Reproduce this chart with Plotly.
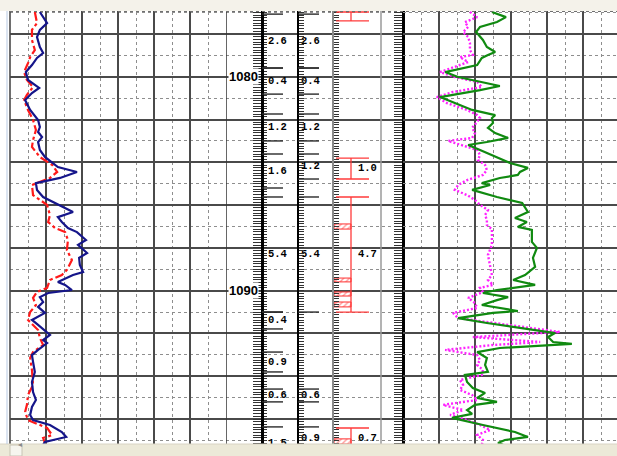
import plotly.graph_objects as go

# ---------------- data (depth in metres) ----------------
blue_depth = [1076.97, 1077.49, 1077.81, 1078.14, 1078.61, 1078.89, 1079.12, 1079.45, 1079.78, 1080.15,
              1080.52, 1080.76, 1081.09, 1081.55, 1082.02, 1082.35, 1082.58, 1082.82, 1083.05, 1083.42,
              1083.75, 1084.22, 1084.45, 1084.73, 1084.97, 1085.29, 1085.62, 1086.09, 1086.32, 1086.56,
              1086.79, 1087.07, 1087.26, 1087.63, 1087.86, 1088.24, 1088.47, 1088.80, 1089.13, 1089.27,
              1089.59, 1089.73, 1089.97, 1090.11, 1090.30, 1090.53, 1090.76, 1091.04, 1091.37, 1091.60,
              1091.93, 1092.07, 1092.31, 1092.45, 1092.77, 1093.01, 1093.33, 1093.80, 1094.27, 1094.74,
              1095.11, 1095.44, 1095.81, 1096.05, 1096.28, 1096.61, 1096.84, 1097.07, 1097.21]
blue_value = [8.3, 10.3, 8.3, 7.5, 8.3, 9.2, 7.5, 6.1, 4.4, 5.0,
              8.1, 6.1, 4.2, 5.6, 7.8, 8.3, 7.8, 8.9, 7.8, 8.3,
              9.7, 13.3, 18.6, 13.9, 7.2, 7.5, 9.2, 14.7, 17.5, 13.3,
              14.4, 16.1, 18.6, 21.1, 18.9, 21.4, 19.2, 19.4, 20.3, 17.5,
              13.3, 15.3, 17.2, 10.6, 8.3, 9.2, 7.8, 9.7, 6.1, 7.8,
              10.3, 11.1, 9.2, 10.3, 7.8, 6.1, 6.4, 6.9, 6.1, 6.4,
              7.2, 6.1, 5.6, 6.4, 11.1, 14.4, 15.6, 9.7, 9.2]

red_depth = [1076.97, 1077.49, 1077.81, 1078.28, 1078.75, 1079.08, 1079.36, 1079.78, 1080.15, 1080.48,
             1080.85, 1081.09, 1081.55, 1082.02, 1082.49, 1082.96, 1083.28, 1083.75, 1084.12, 1084.45,
             1084.73, 1085.06, 1085.53, 1085.99, 1086.46, 1086.79, 1087.07, 1087.26, 1087.63, 1088.10,
             1088.57, 1089.03, 1089.27, 1089.50, 1089.87, 1090.06, 1090.34, 1090.67, 1091.00, 1091.37,
             1091.84, 1092.21, 1092.54, 1092.87, 1093.15, 1093.71, 1094.41, 1094.88, 1095.34, 1095.67,
             1096.05, 1096.42, 1096.75, 1096.89, 1097.12]
red_value = [6.9, 7.5, 6.1, 6.1, 6.9, 5.6, 5.0, 3.9, 4.7, 6.4,
             4.7, 3.9, 5.0, 6.4, 7.2, 6.4, 6.1, 8.3, 11.7, 13.1,
             11.1, 6.1, 6.4, 10.3, 11.1, 10.6, 12.5, 15.3, 16.1, 15.8,
             17.2, 15.8, 14.4, 11.1, 10.3, 7.5, 6.4, 7.2, 5.6, 5.0,
             7.8, 8.3, 9.2, 6.4, 5.6, 6.1, 6.4, 5.0, 4.7, 4.2,
             5.0, 10.3, 11.7, 9.2, 9.7]

green_depth = [1076.97, 1077.21, 1077.44, 1077.67, 1077.91, 1078.28, 1078.61, 1078.84, 1078.98, 1079.12,
               1079.45, 1079.78, 1080.01, 1080.24, 1080.43, 1080.62, 1080.95, 1081.23, 1081.55, 1081.79,
               1081.93, 1082.16, 1082.39, 1082.63, 1082.86, 1083.05, 1083.19, 1083.42, 1083.75, 1084.03,
               1084.26, 1084.45, 1084.59, 1084.73, 1084.97, 1085.06, 1085.29, 1085.62, 1085.90, 1086.32,
               1086.60, 1086.79, 1087.02, 1087.16, 1087.72, 1088.00, 1088.47, 1088.89, 1089.27, 1089.50,
               1089.73, 1089.97, 1090.11, 1090.30, 1090.44, 1090.67, 1090.95, 1091.04, 1091.28, 1091.51,
               1091.93, 1091.98, 1092.17, 1092.40, 1092.49, 1092.68, 1092.87, 1093.01, 1093.15, 1093.47,
               1093.80, 1093.94, 1094.27, 1094.55, 1094.78, 1095.02, 1095.20, 1095.34, 1095.58, 1095.76,
               1095.95, 1096.28, 1096.61, 1096.84, 1096.98, 1097.12, 1097.21]
green_value = [24.7, 28.6, 26.1, 21.4, 20.3, 22.2, 23.3, 25.6, 23.6, 21.9,
               20.6, 11.7, 15.3, 21.4, 26.9, 21.4, 10.3, 14.4, 19.2, 25.6,
               24.7, 25.0, 23.6, 25.6, 29.2, 23.3, 18.1, 21.4, 26.1, 29.7,
               34.7, 32.5, 31.9, 26.9, 21.9, 24.2, 19.2, 26.1, 33.1, 34.7,
               31.1, 34.4, 31.9, 35.8, 35.8, 37.2, 36.1, 36.7, 33.9, 30.6,
               36.7, 26.1, 22.2, 29.2, 26.1, 21.9, 31.9, 25.0, 15.3, 23.3,
               40.0, 42.2, 40.3, 41.7, 46.9, 26.9, 20.6, 21.9, 23.3, 22.8,
               23.6, 17.2, 17.8, 19.4, 22.8, 20.6, 26.1, 20.0, 17.8, 19.2,
               13.6, 22.2, 31.1, 34.7, 28.3, 26.4, 27.8]

magenta_depth = [1076.97, 1077.21, 1077.44, 1077.67, 1077.91, 1078.14, 1078.42, 1078.75, 1078.98, 1079.08,
                 1079.31, 1079.54, 1079.78, 1080.01, 1080.24, 1080.48, 1080.71, 1080.95, 1081.23, 1081.55,
                 1081.79, 1081.93, 1082.11, 1082.39, 1082.63, 1082.86, 1083.00, 1083.19, 1083.42, 1083.66,
                 1083.89, 1084.12, 1084.36, 1084.59, 1084.83, 1085.06, 1085.29, 1085.53, 1085.76, 1085.99,
                 1086.23, 1086.46, 1086.70, 1086.93, 1087.12, 1087.40, 1087.86, 1088.33, 1088.80, 1089.27,
                 1089.50, 1089.73, 1089.87, 1090.06, 1090.34, 1090.58, 1090.81, 1091.04, 1091.28, 1091.60,
                 1091.93, 1092.17, 1092.40, 1092.54, 1092.77, 1093.01, 1093.24, 1093.47, 1093.71, 1093.94,
                 1094.18, 1094.41, 1094.64, 1094.88, 1095.11, 1095.34, 1095.58, 1095.81, 1096.05, 1096.28,
                 1096.51, 1096.75, 1096.98, 1097.21]
magenta_value = [18.6, 20.6, 17.2, 18.1, 16.7, 18.1, 18.6, 18.6, 19.4, 15.8,
                 18.1, 14.4, 10.3, 14.4, 20.6, 21.9, 13.9, 9.4, 12.2, 17.8,
                 20.6, 21.4, 20.6, 19.2, 20.0, 19.2, 12.5, 16.4, 20.6, 21.4,
                 20.8, 22.8, 23.3, 22.2, 17.8, 15.3, 14.4, 17.8, 20.0, 21.4,
                 23.6, 22.8, 23.3, 23.3, 24.7, 24.7, 24.7, 23.6, 24.2, 24.7,
                 23.6, 25.0, 21.4, 22.2, 18.1, 20.0, 20.6, 13.9, 15.3, 29.7,
                 43.6, 19.4, 38.1, 25.0, 11.7, 20.6, 21.4, 20.6, 22.2, 21.9,
                 15.8, 16.7, 15.8, 19.2, 20.6, 11.1, 16.7, 13.1, 17.8, 21.4,
                 24.2, 20.6, 22.2, 21.9]

# layer tables of the two interpretation columns
layerA_top = [1077.07, 1079.59, 1081.74, 1083.61, 1085.62, 1091.00, 1092.87, 1094.60, 1096.37]
layerA_bot = [1079.59, 1080.81, 1083.00, 1085.20, 1091.00, 1091.79, 1093.80, 1095.20, 1097.87]
layerA_val = [2.6, 0.4, 1.2, 1.6, 5.4, 0.4, 0.9, 0.6, 1.5]

layerB_top = [1077.07, 1079.59, 1081.74, 1083.61, 1085.62, 1094.60, 1096.37]
layerB_bot = [1079.59, 1080.81, 1083.00, 1084.78, 1091.00, 1095.20, 1097.45]
layerB_val = [2.6, 0.4, 1.2, 1.2, 5.4, 0.6, 0.9]

# red interval column
zone_top = [1076.97, 1083.80, 1085.62, 1096.42]
zone_bot = [1077.39, 1084.78, 1091.00, 1097.35]
zone_val = [None, 1.0, 4.7, 0.7]

hatch_top = [1086.88, 1089.41, 1090.06, 1090.53, 1096.93]
hatch_bot = [1087.12, 1089.59, 1090.25, 1090.76, 1097.17]

depth_marks = [1080, 1090]

# ---------------- layout constants (pixels) ----------------
W, H = 617, 456
L = 10
PW = W - L
Y_RANGE = [1097.73, 1076.41]


def pxx(x):
    return (x - L) / PW


def pyy(y):
    return 1 - y / H


MAJOR = "#4a4a4a"
MINOR = "#8e8e8e"
LABEL_FONT = dict(family="Liberation Mono", size=10.5, color="black", weight="bold")

fig = go.Figure()

# ---- track 1 curves ----
fig.add_trace(go.Scatter(x=red_value, y=red_depth, mode="lines", xaxis="x", yaxis="y",
                         line=dict(color="#ff1a1a", width=2.2, dash="dashdot")))
fig.add_trace(go.Scatter(x=blue_value, y=blue_depth, mode="lines", xaxis="x", yaxis="y",
                         line=dict(color="#15158a", width=2.2)))

# ---- right track curves ----
fig.add_trace(go.Scatter(x=magenta_value, y=magenta_depth, mode="lines", xaxis="x3", yaxis="y",
                         line=dict(color="#ff22ff", width=2.4, dash="2px,2px")))
fig.add_trace(go.Scatter(x=green_value, y=green_depth, mode="lines", xaxis="x3", yaxis="y",
                         line=dict(color="#108a10", width=2.2)))

# ---- hatched boxes ----
HATCH_X0, HATCH_LEN = 334, 17
fig.add_trace(go.Bar(
    y=[(t + b) / 2 for t, b in zip(hatch_top, hatch_bot)],
    x=[HATCH_LEN] * len(hatch_top), base=[HATCH_X0] * len(hatch_top),
    width=[b - t for t, b in zip(hatch_top, hatch_bot)],
    orientation="h", xaxis="x2", yaxis="y",
    marker=dict(color="white", line=dict(color="#ff3030", width=1),
                pattern=dict(shape="/", fgcolor="#ff3030", bgcolor="white", size=4, solidity=0.35))))

# ---- layer labels (text traces so they sit under the frame strips) ----
A_X, B_X, C_X = 268, 301, 358
fig.add_trace(go.Scatter(x=[A_X] * len(layerA_val),
                         y=[(t + b) / 2 for t, b in zip(layerA_top, layerA_bot)],
                         text=[f"{v:.1f}" for v in layerA_val], mode="text",
                         textposition="middle right", textfont=LABEL_FONT,
                         xaxis="x2", yaxis="y"))
fig.add_trace(go.Scatter(x=[B_X] * len(layerB_val),
                         y=[(t + b) / 2 for t, b in zip(layerB_top, layerB_bot)],
                         text=[f"{v:.1f}" for v in layerB_val], mode="text",
                         textposition="middle right", textfont=LABEL_FONT,
                         xaxis="x2", yaxis="y"))
zl = [(v, (t + b) / 2) for v, t, b in zip(zone_val, zone_top, zone_bot) if v is not None]
fig.add_trace(go.Scatter(x=[C_X] * len(zl), y=[d for _, d in zl],
                         text=[f"{v:.1f}" for v, _ in zl], mode="text",
                         textposition="middle right", textfont=LABEL_FONT,
                         xaxis="x2", yaxis="y"))

shapes = []
# layer boundary lines
for t, b in zip(layerA_top, layerA_bot):
    for d in (t, b):
        shapes.append(dict(type="line", xref="x2", yref="y", x0=262, x1=283, y0=d, y1=d,
                           line=dict(color="#2a2a2a", width=1.4)))
for t, b in zip(layerB_top, layerB_bot):
    for d in (t, b):
        shapes.append(dict(type="line", xref="x2", yref="y", x0=298, x1=319, y0=d, y1=d,
                           line=dict(color="#2a2a2a", width=1.4)))
# red interval brackets
RED = "#ff3a3a"
for t, b in zip(zone_top, zone_bot):
    shapes.append(dict(type="line", xref="x2", yref="y", x0=336, x1=369, y0=t, y1=t, line=dict(color=RED, width=1.3)))
    shapes.append(dict(type="line", xref="x2", yref="y", x0=336, x1=369, y0=b, y1=b, line=dict(color=RED, width=1.3)))
    shapes.append(dict(type="line", xref="x2", yref="y", x0=351, x1=351, y0=t, y1=b, line=dict(color=RED, width=1.3)))

# plain vertical separators
shapes.append(dict(type="line", xref="x2", yref="paper", x0=226, x1=226, y0=0, y1=1, line=dict(color="#333", width=1.5)))
shapes.append(dict(type="line", xref="x2", yref="paper", x0=381, x1=381, y0=0, y1=1, line=dict(color="#9a9a9a", width=1.5)))
shapes.append(dict(type="line", xref="paper", yref="paper", x0=0, x1=0, y0=0, y1=1, line=dict(color=MAJOR, width=1.6)))

# window chrome: top strip, bottom scroll strip, left edge line
shapes.append(dict(type="rect", xref="paper", yref="paper", x0=pxx(0), x1=1, y0=pyy(11), y1=1,
                   fillcolor="#f4f2ea", line=dict(width=0), layer="above"))
shapes.append(dict(type="line", xref="paper", yref="paper", x0=pxx(10), x1=1, y0=pyy(11.5), y1=pyy(11.5),
                   line=dict(color="#707070", width=1.2, dash="dot"), layer="above"))
shapes.append(dict(type="rect", xref="paper", yref="paper", x0=pxx(0), x1=1, y0=0, y1=pyy(444),
                   fillcolor="#ece9d8", line=dict(width=0), layer="above"))
shapes.append(dict(type="line", xref="paper", yref="paper", x0=pxx(0), x1=1, y0=pyy(444), y1=pyy(444),
                   line=dict(color="#d8d4c4", width=1), layer="above"))
shapes.append(dict(type="rect", xref="paper", yref="paper", x0=pxx(10), x1=pxx(22), y0=0, y1=pyy(445),
                   fillcolor="#f6f5ef", line=dict(color="#c8c4b4", width=1), layer="above"))
shapes.append(dict(type="line", xref="paper", yref="paper", x0=pxx(7), x1=pxx(7), y0=pyy(444), y1=pyy(11),
                   line=dict(color="#b7c9e2", width=1), layer="above"))

annotations = [dict(x=243, y=d, xref="x2", yref="y", text=f"<b>{d}</b>", showarrow=False,
                    font=dict(family="Liberation Sans", size=13, color="black"),
                    bgcolor="white", borderpad=0) for d in depth_marks]
annotations.append(dict(x=pxx(16), y=pyy(450.5), xref="paper", yref="paper", text="◂", showarrow=False,
                        font=dict(size=8, color="#8a8a8a")))

grid_x = dict(showgrid=True, gridcolor=MAJOR, gridwidth=1.6, dtick=10, tick0=0,
              minor=dict(dtick=5, showgrid=True, gridcolor=MINOR, griddash="dot", gridwidth=1),
              showticklabels=False, zeroline=False, ticks="", showline=False, fixedrange=True)


def tick_axis(pos, ticks, length, linecolor, linewidth, showline=True):
    return dict(overlaying="y", anchor="free", position=pos, side="left", range=Y_RANGE,
                autorange=False, tick0=1077, dtick=0.125, ticks=ticks, ticklen=length,
                tickcolor="#333333", tickwidth=1, showticklabels=False, showgrid=False,
                zeroline=False, showline=showline, linecolor=linecolor, linewidth=linewidth)


fig.update_layout(
    width=W, height=H, margin=dict(l=L, r=0, t=0, b=0),
    paper_bgcolor="white", plot_bgcolor="white", showlegend=False, barmode="overlay",
    xaxis=dict(domain=[0, pxx(226)], range=[0, 60], anchor="y", **grid_x),
    xaxis2=dict(domain=[pxx(226), pxx(403)], range=[226, 403], anchor="y", showgrid=False,
                showticklabels=False, zeroline=False, ticks="", fixedrange=True),
    xaxis3=dict(domain=[pxx(403), 1], range=[0, (W - 403) / 3.6], anchor="y", **grid_x),
    yaxis=dict(range=Y_RANGE, autorange=False, anchor="x", showgrid=True, gridcolor=MAJOR, gridwidth=1.6,
               dtick=2, tick0=1078,
               minor=dict(dtick=1, showgrid=True, gridcolor=MINOR, griddash="dot", gridwidth=1),
               showticklabels=False, zeroline=False, ticks="", showline=False, fixedrange=True),
    yaxis2=tick_axis(pxx(262), "outside", 8, "black", 2.5),
    yaxis3=tick_axis(pxx(262), "inside", 3, "black", 2.5),
    yaxis4=tick_axis(pxx(298), "inside", 5, "black", 2),
    yaxis5=tick_axis(pxx(333), "inside", 5, "#8a8a8a", 1.5),
    yaxis6=tick_axis(pxx(403), "outside", 8, "black", 2.5),
    shapes=shapes, annotations=annotations,
)

# anchor traces so the tick axes are rendered
for i in range(2, 7):
    fig.add_trace(go.Scatter(x=[None], y=[None], xaxis="x2", yaxis=f"y{i}", hoverinfo="skip"))

fig.write_html("out.html", config={"displayModeBar": False},
               post_script="document.body.style.margin='0';document.body.style.overflow='hidden';")
